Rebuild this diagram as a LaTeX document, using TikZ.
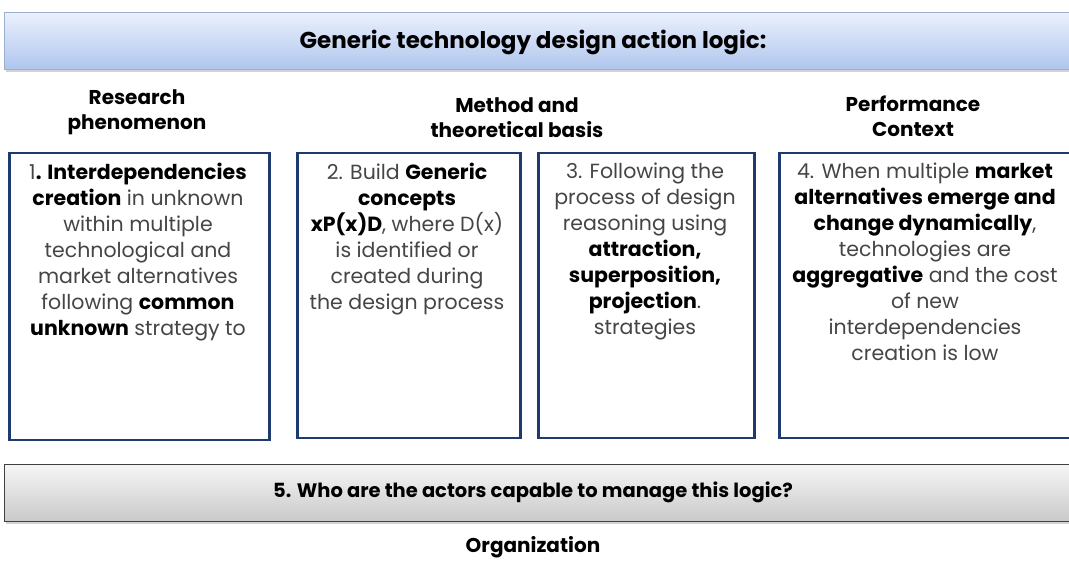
\documentclass[tikz,border=0pt]{standalone}
\usepackage{fontspec}
\setmainfont{Poppins}
\usepackage{tikz}
\usetikzlibrary{shadows}
\definecolor{navy}{HTML}{1F3A6E}
\definecolor{txtgrey}{HTML}{454545}
\definecolor{bluetop}{HTML}{EAF0FC}
\definecolor{bluebot}{HTML}{AFC5EE}
\definecolor{blueline}{HTML}{9DAFCF}
\definecolor{greytop}{HTML}{F5F5F5}
\definecolor{greybot}{HTML}{C9C9C9}

\begin{document}
\begin{tikzpicture}[x=1pt,y=1pt]
		\tikzset{banner/.style={draw=#1,line width=1pt,inner sep=0pt,minimum width=1075pt,minimum height=57pt,
				drop shadow={opacity=0.35,shadow xshift=1pt,shadow yshift=-2.5pt}}}
		\tikzset{box/.style={draw=navy,line width=2.5pt,fill=white,anchor=north west,inner sep=0pt}}
		\tikzset{boxtext/.style={anchor=north,align=center,inner sep=0pt,text=txtgrey,font=\fontsize{20.5}{26}\selectfont}}
		\tikzset{head/.style={align=center,inner sep=0pt,font=\bfseries\fontsize{20}{25}\selectfont}}
		\useasboundingbox (0,0) rectangle (1069,562);
		\clip (0,0) rectangle (1069,562);
		
		%Bandas
		\node (top) at (542,520.5) [banner=blueline,top color=bluetop,bottom color=bluebot] {};
		\node (title) at (533,519.5) [font=\bfseries\fontsize{23}{26}\selectfont] {Generic technology design action logic:};
		\node (actors) at (542,68.5) [banner=black!75,top color=greytop,bottom color=greybot] {};
		\node (question) at (533,70) [font=\bfseries\fontsize{19.5}{22}\selectfont] {5. Who are the actors capable to manage this logic?};
		\node (org) at (533,15) [head] {Organization};
		
		%Titulos
		\node (h1) at (137,450) [head] {Research\\phenomenon};
		\node (h2) at (517,444) [head] {Method and\\theoretical basis};
		\node (h3) at (913,446) [head] {Performance\\Context};
		
		%Cajas
		\node (b1) at (8,410) [box,minimum width=260pt,minimum height=287pt] {};
		\node (b2) at (296,410) [box,minimum width=223pt,minimum height=285pt] {};
		\node (b3) at (537,410) [box,minimum width=216pt,minimum height=285pt] {};
		\node (b4) at (778,410) [box,minimum width=320pt,minimum height=285pt] {};
		
		\node (t1) at (138,399) [boxtext] {1\textbf{\color{black}. Interdependencies}\\
			\textbf{\color{black}creation} in unknown\\ within multiple\\ technological and\\
			market alternatives\\ following \textbf{\color{black}common}\\ \textbf{\color{black}unknown} strategy to};
		\node (t2) at (407,399) [boxtext] {2. Build \textbf{\color{black}Generic}\\ \textbf{\color{black}concepts}\\
			\textbf{\color{black}xP(x)D}, where D(x)\\ is identified or\\ created during\\ the design process};
		\node (t3) at (645,399) [boxtext] {3. Following the\\ process of design\\ reasoning using\\
			\textbf{\color{black}attraction,}\\ \textbf{\color{black}superposition,}\\ \textbf{\color{black}projection}.\\ strategies};
		\node (t4) at (925,399) [boxtext] {4. When multiple \textbf{\color{black}market}\\
			\textbf{\color{black}alternatives emerge and}\\ \textbf{\color{black}change dynamically},\\ technologies are\\
			\textbf{\color{black}aggregative} and the cost\\ of new\\ interdependencies\\ creation is low};
	\end{tikzpicture}
\end{document}
